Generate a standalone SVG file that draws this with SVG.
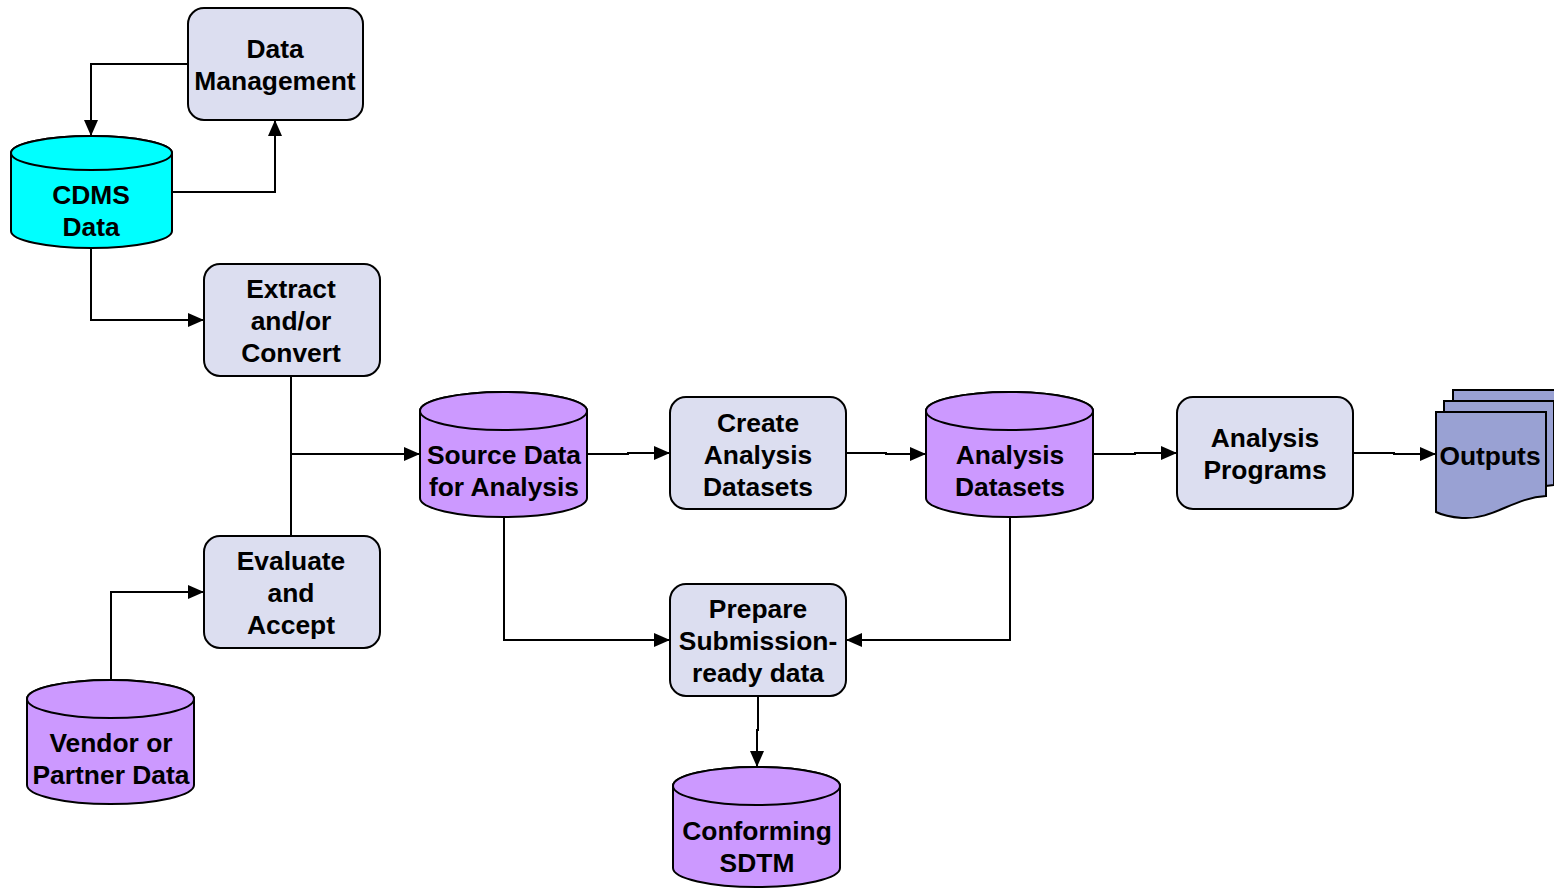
<svg xmlns="http://www.w3.org/2000/svg" width="1554" height="888" viewBox="0 0 1554 888">
<defs>
<style>
.box{fill:#dcdef0;stroke:#000;stroke-width:2}
.cyl{stroke:#000;stroke-width:2}
.purple{fill:#cc99ff}
.cyan{fill:#00ffff}
.doc{fill:#99a1d3;stroke:#000;stroke-width:2}
text{font-family:"Liberation Sans",Arial,sans-serif;font-weight:bold;font-size:26.4px;text-anchor:middle;fill:#000}
.conn path{fill:none;stroke:#000;stroke-width:2;marker-end:url(#arr)}
</style>
<marker id="arr" markerWidth="16" markerHeight="14" refX="16" refY="7" orient="auto" markerUnits="userSpaceOnUse">
<path d="M0,0 L16,7 L0,14 Z" fill="#000"/>
</marker>
</defs>
<rect width="1554" height="888" fill="#fff"/>

<g class="conn" id="connectors">
<path d="M188,64 H91 V136"/>
<path d="M172,192 H275 V120"/>
<path d="M91,248 V320 H204"/>
<path d="M291,376 V536" style="marker-end:none"/>
<path d="M291,454 H420"/>
<path d="M111,680 V592 H204"/>
<path d="M587,454 H628 V453 H670"/>
<path d="M846,453 H886 V454 H926"/>
<path d="M1093,454 H1135 V453 H1177"/>
<path d="M1353,453 H1394 V454 H1436"/>
<path d="M504,517 V640 H670"/>
<path d="M1010,517 V640 H846"/>
<path d="M758,696 V730 H757 V767"/>
</g>

<g id="data-management">
<rect class="box" x="188" y="8" width="175" height="112" rx="16"/>
<text x="275" y="58">Data</text>
<text x="275" y="90">Management</text>
</g>

<g id="cdms-data">
<path class="cyl cyan" d="M11,153 V231 A80.5,17 0 0 0 172,231 V153 A80.5,17 0 0 0 11,153 Z"/>
<ellipse class="cyl cyan" cx="91.5" cy="153" rx="80.5" ry="17"/>
<text x="91" y="204">CDMS</text>
<text x="91" y="236">Data</text>
</g>

<g id="extract">
<rect class="box" x="204" y="264" width="176" height="112" rx="16"/>
<text x="291" y="298">Extract</text>
<text x="291" y="330">and/or</text>
<text x="291" y="362">Convert</text>
</g>

<g id="evaluate">
<rect class="box" x="204" y="536" width="176" height="112" rx="16"/>
<text x="291" y="570">Evaluate</text>
<text x="291" y="602">and</text>
<text x="291" y="634">Accept</text>
</g>

<g id="vendor-data">
<path class="cyl purple" d="M27,699 V785 A83.5,19 0 0 0 194,785 V699 A83.5,19 0 0 0 27,699 Z"/>
<ellipse class="cyl purple" cx="110.5" cy="699" rx="83.5" ry="19"/>
<text x="111" y="752">Vendor or</text>
<text x="111" y="784">Partner Data</text>
</g>

<g id="source-data">
<path class="cyl purple" d="M420,411 V498 A83.5,19 0 0 0 587,498 V411 A83.5,19 0 0 0 420,411 Z"/>
<ellipse class="cyl purple" cx="503.5" cy="411" rx="83.5" ry="19"/>
<text x="504" y="464">Source Data</text>
<text x="504" y="496">for Analysis</text>
</g>

<g id="create-analysis">
<rect class="box" x="670" y="397" width="176" height="112" rx="16"/>
<text x="758" y="432">Create</text>
<text x="758" y="464">Analysis</text>
<text x="758" y="496">Datasets</text>
</g>

<g id="analysis-datasets">
<path class="cyl purple" d="M926,411 V498 A83.5,19 0 0 0 1093,498 V411 A83.5,19 0 0 0 926,411 Z"/>
<ellipse class="cyl purple" cx="1009.5" cy="411" rx="83.5" ry="19"/>
<text x="1010" y="464">Analysis</text>
<text x="1010" y="496">Datasets</text>
</g>

<g id="analysis-programs">
<rect class="box" x="1177" y="397" width="176" height="112" rx="16"/>
<text x="1265" y="447">Analysis</text>
<text x="1265" y="479">Programs</text>
</g>

<g id="outputs">
<path class="doc" d="M1453,390 H1563 V474 C1530,476 1510,498 1479,496 C1467,495 1457,492 1453,490 Z"/>
<path class="doc" d="M1444,401 H1554 V485 C1521,487 1501,509 1470,507 C1458,506 1448,503 1444,501 Z"/>
<path class="doc" d="M1436,412 H1546 V496 C1513,498 1493,520 1462,518 C1450,517 1440,514 1436,512 Z"/>
<text x="1490" y="465">Outputs</text>
</g>

<g id="prepare">
<rect class="box" x="670" y="584" width="176" height="112" rx="16"/>
<text x="758" y="618">Prepare</text>
<text x="758" y="650">Submission-</text>
<text x="758" y="682">ready data</text>
</g>

<g id="conforming-sdtm">
<path class="cyl purple" d="M673,786 V868 A83.5,19 0 0 0 840,868 V786 A83.5,19 0 0 0 673,786 Z"/>
<ellipse class="cyl purple" cx="756.5" cy="786" rx="83.5" ry="19"/>
<text x="757" y="840">Conforming</text>
<text x="757" y="872">SDTM</text>
</g>
</svg>
